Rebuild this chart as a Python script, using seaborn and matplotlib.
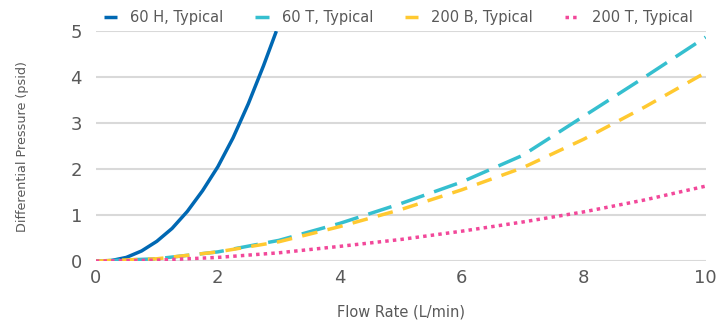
import matplotlib
matplotlib.use("Agg")
import matplotlib.pyplot as plt
import pandas as pd
import seaborn as sns

# 60 H curve (steep, leaves the plot at 5 psid)
flow_60h = [0, 0.25, 0.5, 0.75, 1.0, 1.25, 1.5, 1.75, 2.0, 2.25, 2.5, 2.75, 2.96]
dp_60h = [0, 0.01, 0.08, 0.22, 0.43, 0.71, 1.08, 1.53, 2.05, 2.68, 3.42, 4.25, 5.0]

flow = [0, 1, 2, 3, 4, 5, 6, 7, 8, 9, 10]
dp_60t = [0, 0.05, 0.2, 0.45, 0.82, 1.25, 1.72, 2.3, 3.15, 4.0, 4.87]
dp_200b = [0, 0.05, 0.2, 0.42, 0.75, 1.12, 1.55, 2.03, 2.65, 3.35, 4.1]
dp_200t = [0, 0.02, 0.08, 0.18, 0.32, 0.47, 0.65, 0.85, 1.07, 1.33, 1.63]

series = [
    ("60 H, Typical", flow_60h, dp_60h, "#0068b3", (None, None)),
    ("60 T, Typical", flow, dp_60t, "#35bfcf", (7, 3)),
    ("200 B, Typical", flow, dp_200b, "#ffc930", (4.5, 3)),
    ("200 T, Typical", flow, dp_200t, "#f2489a", (1, 1.2)),
]

sns.set_style("white")
plt.rcParams['font.family'] = ['DejaVu Sans']

fig = plt.figure(figsize=(7.26, 3.28), dpi=100)
ax = fig.add_axes([0.132, 0.204, 0.84, 0.701])

for name, xs, ys, col, dash in series:
    df = pd.DataFrame({"Flow": xs, "DP": ys})
    sns.lineplot(data=df, x="Flow", y="DP", ax=ax, color=col, lw=2.5, label=name)
    ln = ax.lines[-1]
    if dash[0] is not None:
        ln.set_dashes(dash)
    ln.set_solid_capstyle("butt")
    ln.set_dash_capstyle("butt")
    ln.set_solid_joinstyle("round")

ax.set_xlim(0, 10)
ax.set_ylim(0, 5)
ax.set_xticks([0, 2, 4, 6, 8, 10])
ax.set_yticks([0, 1, 2, 3, 4, 5])
ax.yaxis.grid(True, color="#d9d9d9", lw=1.5)
ax.set_axisbelow(True)
for s in ax.spines.values():
    s.set_visible(False)
ax.tick_params(axis="both", length=0, labelsize=13, colors="#595959")
ax.tick_params(axis="x", pad=6)
ax.tick_params(axis="y", pad=10)
ax.set_xlabel("Flow Rate (L/min)", fontsize=10.5, color="#595959", labelpad=12)
ax.set_ylabel("Differential Pressure (psid)", fontsize=9.2, color="#595959", labelpad=30)

ax.get_legend().remove()
h, l = ax.get_legend_handles_labels()
fig.legend(h, l, loc="upper left", bbox_to_anchor=(0.125, 1.01), ncol=4, frameon=False,
           fontsize=10.5, handlelength=0.9, columnspacing=2.2, handletextpad=0.9,
           labelcolor="#595959")

fig.savefig("out.png", dpi=100)
